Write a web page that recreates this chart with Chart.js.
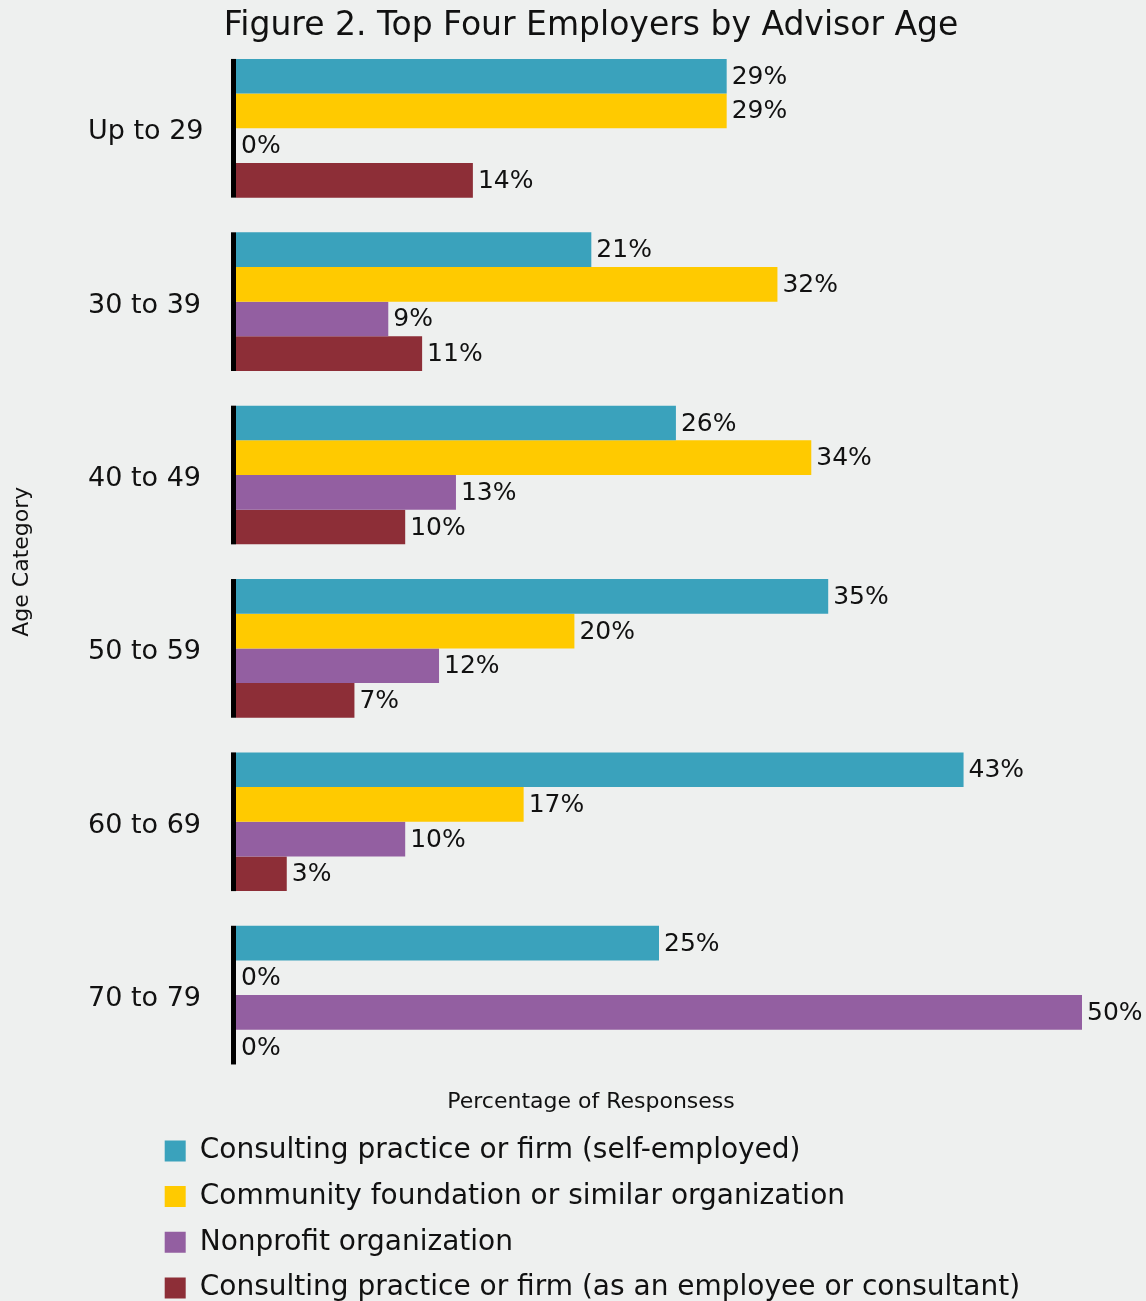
<!DOCTYPE html>
<html>
<head>
<meta charset="utf-8">
<title>Top Four Employers by Advisor Age</title>
<script src="https://cdn.jsdelivr.net/npm/chart.js@4/dist/chart.umd.min.js"></script>
<style>
  html, body { margin: 0; padding: 0; background: #eef0ef; overflow: hidden; }
  #wrap { position: relative; width: 1146px; height: 1312px; }
</style>
</head>
<body>
<div id="wrap"><canvas id="employers-chart"></canvas></div>
<script>
// age groups and share of responses (%) per employer type
const ageGroups = ["Up to 29", "30 to 39", "40 to 49", "50 to 59", "60 to 69", "70 to 79"];
const seriesNames = [
    "Consulting practice or firm (self-employed)",
    "Community foundation or similar organization",
    "Nonprofit organization",
    "Consulting practice or firm (as an employee or consultant)"
];
const selfEmployed = [29, 21, 26, 35, 43, 25];
const communityFoundation = [29, 32, 34, 20, 17, 0];
const nonprofit = [0, 9, 13, 12, 10, 50];
const firmEmployee = [14, 11, 10, 7, 3, 0];
const seriesColors = ["#3aa2bc", "#ffca00", "#935fa1", "#8d2e37"];

const FONT = "'DejaVu Sans', sans-serif";

// black marker at the left of each age group + value labels at bar ends
const groupMarkers = {
    id: "groupMarkers",
    afterDatasetsDraw(chart) {
        const ctx = chart.ctx;
        const x0 = chart.scales.x.getPixelForValue(0);
        const first = chart.getDatasetMeta(0).data;
        const last = chart.getDatasetMeta(chart.data.datasets.length - 1).data;

        ctx.save();
        ctx.fillStyle = "#000";
        first.forEach((bar, i) => {
            const top = bar.y - bar.height / 2;
            const bottom = last[i].y + last[i].height / 2;
            ctx.fillRect(x0 - 5, top, 5, bottom - top);
        });

        ctx.font = "25px " + FONT;
        ctx.fillStyle = "#111";
        ctx.textAlign = "left";
        ctx.textBaseline = "middle";
        chart.data.datasets.forEach((ds, d) => {
            chart.getDatasetMeta(d).data.forEach((bar, i) => {
                ctx.fillText(ds.data[i] + "%", bar.x + 5, bar.y + 1);
            });
        });
        ctx.restore();
    }
};

// move the title, axis caption and legend list sideways after layout
const nudgeBoxes = {
    id: "nudgeBoxes",
    afterLayout(chart) {
        chart.boxes.forEach(box => {
            if (box !== chart.legend && box.options && typeof box.options.text === "string") {
                box.left += 50;
                box.right += 50;
            }
        });
        const lg = chart.legend;
        if (lg) {
            lg.left = 147;
            lg.right = chart.width;
        }
    }
};

const ctx = document.getElementById("employers-chart").getContext("2d");

const employersChart = new Chart(ctx, {
    type: "bar",
    data: {
        labels: ageGroups,
        datasets: [
            { label: seriesNames[0], data: selfEmployed, backgroundColor: seriesColors[0] },
            { label: seriesNames[1], data: communityFoundation, backgroundColor: seriesColors[1] },
            { label: seriesNames[2], data: nonprofit, backgroundColor: seriesColors[2] },
            { label: seriesNames[3], data: firmEmployee, backgroundColor: seriesColors[3] }
        ]
    },
    options: {
        indexAxis: "y",
        responsive: true,
        maintainAspectRatio: false,
        animation: false,
        datasets: {
            bar: { categoryPercentage: 0.8, barPercentage: 1.0 }
        },
        layout: { padding: { left: 0, right: 64, top: 0, bottom: 0 } },
        scales: {
            x: {
                display: false,
                min: 0,
                max: 50
            },
            y: {
                grid: { display: false },
                border: { display: false },
                ticks: {
                    crossAlign: "far",
                    labelOffset: 4,
                    color: "#111",
                    font: { family: FONT, size: 27 }
                },
                afterFit(scale) { scale.width = 148; }
            },
            ageTitle: {
                type: "category",
                axis: "y",
                position: "left",
                weight: 1,
                grid: { display: false },
                border: { display: false },
                ticks: { display: false },
                title: {
                    display: true,
                    text: "Age Category",
                    color: "#111",
                    font: { family: FONT, size: 22 },
                    padding: { top: 9, bottom: 4 }
                },
                afterFit(scale) { scale.width = 88; }
            }
        },
        plugins: {
            title: {
                display: true,
                text: "Figure 2. Top Four Employers by Advisor Age",
                color: "#111",
                font: { family: FONT, size: 33, weight: "normal" },
                padding: { top: 7, bottom: -5 }
            },
            subtitle: {
                display: true,
                position: "bottom",
                weight: 500,
                text: "Percentage of Responsess",
                color: "#111",
                font: { family: FONT, size: 22 },
                padding: { top: 7, bottom: 4 }
            },
            legend: {
                position: "bottom",
                align: "start",
                fullSize: false,
                labels: {
                    boxWidth: 21,
                    boxHeight: 21,
                    padding: 17.7,
                    color: "#111",
                    font: { family: FONT, size: 28 }
                }
            },
            tooltip: { enabled: false }
        }
    },
    plugins: [groupMarkers, nudgeBoxes]
});
</script>
</body>
</html>
